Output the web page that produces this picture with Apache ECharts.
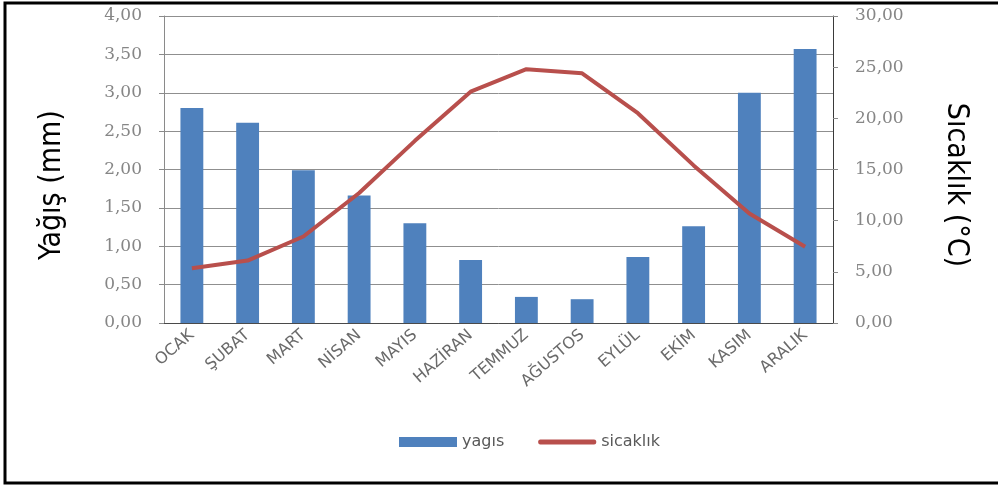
<!DOCTYPE html>
<html>
<head>
<meta charset="utf-8">
<script src="https://cdn.jsdelivr.net/npm/echarts@6/dist/echarts.min.js"></script>
<style>
html,body{margin:0;padding:0;background:#fff;}
#chart{width:998px;height:486px;}
</style>
</head>
<body>
<div id="chart"></div>
<script>
var categories = ['OCAK','ŞUBAT','MART','NİSAN','MAYIS','HAZİRAN','TEMMUZ','AĞUSTOS','EYLÜL','EKİM','KASIM','ARALIK'];
var yagis = [2.80, 2.61, 1.99, 1.66, 1.30, 0.82, 0.34, 0.31, 0.86, 1.26, 3.00, 3.57];
var sicaklik = [5.35, 6.1, 8.45, 12.7, 17.8, 22.6, 24.8, 24.4, 20.5, 15.4, 10.7, 7.45];
var leftTitle = 'Yağış (mm)';
var rightTitle = 'Sıcaklık (°C)';

var chart = echarts.init(document.getElementById('chart'));
var titleFont = "30px 'Liberation Sans Narrow', 'DejaVu Sans Condensed', 'Liberation Sans', sans-serif";
var tickFont = {fontFamily: 'DejaVu Serif', fontSize: 17, color: '#868686'};
function fmt(v){ return v.toFixed(2).replace('.', ','); }
chart.setOption({
  animation: false,
  backgroundColor: '#fff',
  graphic: [{
    type: 'rect', shape: {x: 5, y: 3, width: 1010, height: 480},
    style: {fill: 'none', stroke: '#000', lineWidth: 3}, silent: true
  }, {
    type: 'text', x: 52, y: 185, rotation: Math.PI / 2, silent: true,
    style: {text: leftTitle, font: titleFont, fill: '#000', align: 'center', verticalAlign: 'middle'}
  }, {
    type: 'text', x: 956, y: 185, rotation: -Math.PI / 2, silent: true,
    style: {text: rightTitle, font: titleFont, fill: '#000', align: 'center', verticalAlign: 'middle'}
  }],
  grid: {left: 164, right: 165, top: 16, bottom: 163},
  legend: {
    top: 429, left: 394, itemGap: 34, itemWidth: 58, itemHeight: 10,
    symbolKeepAspect: true,
    textStyle: {fontFamily: 'DejaVu Sans', fontSize: 16, color: '#595959'},
    data: [
      {name: 'yagıs', icon: 'rect'},
      {name: 'sicaklık', icon: 'path://M2,0L54,0Q56,0 56,2L56,3Q56,5 54,5L2,5Q0,5 0,3L0,2Q0,0 2,0Z'}
    ]
  },
  xAxis: {
    type: 'category', data: categories,
    axisLine: {lineStyle: {color: '#4a4a4a', width: 1}},
    axisTick: {show: false},
    axisLabel: {rotate: 41, interval: 0, margin: 10, fontFamily: 'DejaVu Sans', fontSize: 16, color: '#6a6a6a'}
  },
  yAxis: [{
    type: 'value', min: 0, max: 4, interval: 0.5,
    axisLine: {show: true, lineStyle: {color: '#8a8a8a'}},
    axisTick: {show: true, length: 5, lineStyle: {color: '#8a8a8a'}},
    splitLine: {lineStyle: {color: '#8f8f8f', width: 1}},
    axisLabel: Object.assign({margin: 22, formatter: fmt}, tickFont)
  }, {
    type: 'value', min: 0, max: 30, interval: 5,
    axisLine: {show: true, lineStyle: {color: '#3a3a3a'}},
    axisTick: {show: true, length: 5, lineStyle: {color: '#8a8a8a'}},
    splitLine: {show: false},
    axisLabel: Object.assign({margin: 22, formatter: fmt}, tickFont)
  }],
  series: [{
    name: 'yagıs', type: 'bar', data: yagis, yAxisIndex: 0,
    barWidth: '41%', itemStyle: {color: '#4F81BD'}
  }, {
    name: 'sicaklık', type: 'line', data: sicaklik, yAxisIndex: 1,
    symbol: 'none', lineStyle: {color: '#B84F4C', width: 4}, itemStyle: {color: '#B84F4C'}
  }]
});
</script>
</body>
</html>
